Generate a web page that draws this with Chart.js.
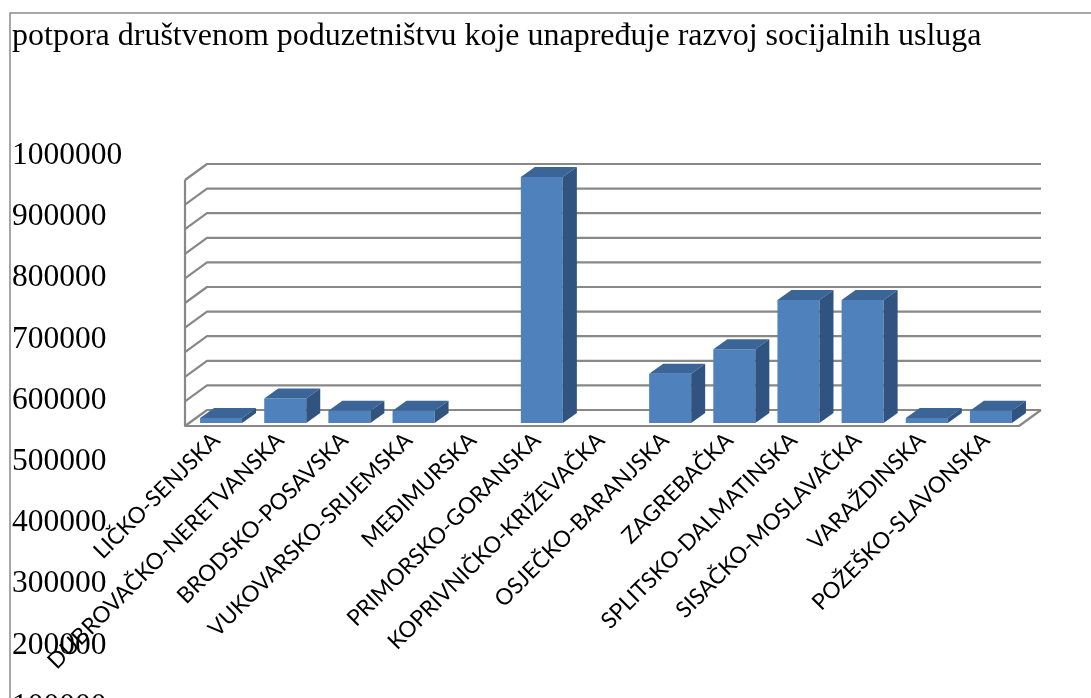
<!DOCTYPE html>
<html><head><meta charset="utf-8">
<script src="https://cdn.jsdelivr.net/npm/chart.js@4.4.1/dist/chart.umd.min.js"></script>
<style>html,body{margin:0;padding:0;background:#fff;overflow:hidden}</style>
</head><body>
<canvas id="c" width="1091" height="698"></canvas>
<script>
const titleText = 'potpora društvenom poduzetništvu koje unapređuje razvoj socijalnih usluga';
const categories = ['LIČKO-SENJSKA','DUBROVAČKO-NERETVANSKA','BRODSKO-POSAVSKA','VUKOVARSKO-SRIJEMSKA','MEĐIMURSKA','PRIMORSKO-GORANSKA','KOPRIVNIČKO-KRIŽEVAČKA','OSJEČKO-BARANJSKA','ZAGREBAČKA','SPLITSKO-DALMATINSKA','SISAČKO-MOSLAVAČKA','VARAŽDINSKA','POŽEŠKO-SLAVONSKA'];
const values = [20000, 100000, 50000, 50000, 0, 1000000, 0, 200000, 300000, 500000, 500000, 20000, 50000];
const yTickLabels = ['1000000','900000','800000','700000','600000','500000','400000','300000','200000','100000','0'];
const yMin = 0, yMax = 1000000, yStep = 100000;

const FRONT = {dx:-4, dy:3}, BACK = {dx:18, dy:-13}, BAR_DEPTH = {dx:14, dy:-10};
const GRID_COLOR = '#888888';

const walls3d = {
  id: 'walls3d',
  beforeDraw(chart) {
    const ctx = chart.ctx;
    ctx.save();
    ctx.fillStyle = '#fff';
    ctx.fillRect(0, 0, chart.width, chart.height);
    ctx.strokeStyle = '#8a8a8a'; ctx.lineWidth = 1.5;
    ctx.strokeRect(10, 13, chart.width + 50, chart.height + 50);
    ctx.restore();
  },
  beforeDatasetsDraw(chart) {
    const {ctx, chartArea: a, scales: {y}} = chart;
    ctx.save();
    ctx.strokeStyle = GRID_COLOR; ctx.lineWidth = 2.2; ctx.lineJoin = 'round';
    y.ticks.forEach(t => {
      const py = y.getPixelForValue(t.value);
      ctx.beginPath();
      ctx.moveTo(a.left + FRONT.dx, py + FRONT.dy);
      ctx.lineTo(a.left + BACK.dx, py + BACK.dy);
      ctx.lineTo(a.right + BACK.dx, py + BACK.dy);
      ctx.stroke();
    });
    const top = y.getPixelForValue(yMax), bot = y.getPixelForValue(yMin);
    ctx.beginPath();
    ctx.moveTo(a.left + FRONT.dx, top + FRONT.dy);
    ctx.lineTo(a.left + FRONT.dx, bot + FRONT.dy);
    ctx.lineTo(a.right + FRONT.dx, bot + FRONT.dy);
    ctx.lineTo(a.right + BACK.dx, bot + BACK.dy);
    ctx.stroke();
    ctx.restore();
  },
  afterDatasetsDraw(chart) {
    const ctx = chart.ctx;
    const meta = chart.getDatasetMeta(0);
    ctx.save();
    meta.data.forEach((bar, i) => {
      if (!values[i]) return;
      const {x, y, base, width} = bar.getProps(['x','y','base','width'], true);
      const l = x - width/2, r = x + width/2;
      ctx.fillStyle = '#3C6597';
      ctx.beginPath();
      ctx.moveTo(l, y); ctx.lineTo(r, y);
      ctx.lineTo(r + BAR_DEPTH.dx, y + BAR_DEPTH.dy); ctx.lineTo(l + BAR_DEPTH.dx, y + BAR_DEPTH.dy);
      ctx.closePath(); ctx.fill();
      ctx.fillStyle = '#31537F';
      ctx.beginPath();
      ctx.moveTo(r, y); ctx.lineTo(r + BAR_DEPTH.dx, y + BAR_DEPTH.dy);
      ctx.lineTo(r + BAR_DEPTH.dx, base + BAR_DEPTH.dy); ctx.lineTo(r, base);
      ctx.closePath(); ctx.fill();
    });
    ctx.restore();
  },
  afterDraw(chart) {
    const ctx = chart.ctx;
    ctx.save();
    ctx.font = '31.5px "Liberation Serif"';
    ctx.fillStyle = '#000';
    ctx.textBaseline = 'alphabetic';
    ctx.textAlign = 'left';
    yTickLabels.forEach((s, i) => ctx.fillText(s, 12, 164 + i * 61.2));
    ctx.restore();
  }
};

new Chart(document.getElementById('c'), {
  type: 'bar',
  data: {
    labels: categories,
    datasets: [{ data: values, backgroundColor: '#4F81BD', borderWidth: 0, barPercentage: 0.655, categoryPercentage: 1 }]
  },
  options: {
    responsive: false,
    animation: false,
    layout: { padding: { left: 12, right: 68, top: 0, bottom: 0 } },
    plugins: {
      legend: { display: false },
      tooltip: { enabled: false },
      title: {
        display: true, text: titleText, align: 'start', color: '#000',
        font: { family: 'Liberation Serif', size: 32, weight: 'normal', lineHeight: 1.2 },
        padding: { top: 17, bottom: 121.6 }
      }
    },
    scales: {
      x: {
        grid: { display: false, drawTicks: false },
        border: { display: false },
        ticks: { autoSkip: false, minRotation: 45, maxRotation: 45, color: '#000', padding: 4, labelOffset: -5,
                 font: { family: 'Lato', size: 22.5 } },
        afterFit(s) { s.height = 275; }
      },
      y: {
        min: yMin, max: yMax,
        ticks: { display: false, stepSize: yStep },
        grid: { display: false },
        border: { display: false },
        afterFit(s) { s.width = 177; }
      }
    }
  },
  plugins: [walls3d]
});
</script>
</body></html>
